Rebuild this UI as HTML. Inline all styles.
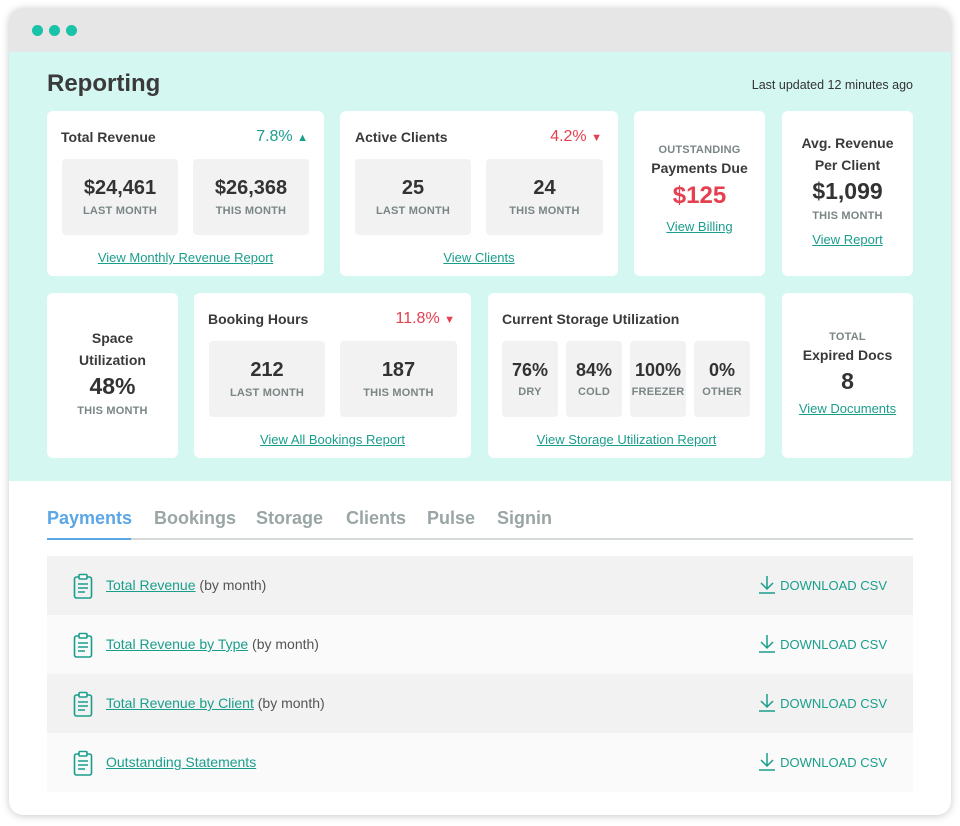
<!DOCTYPE html>
<html><head><meta charset="utf-8"><style>
*{margin:0;padding:0;box-sizing:border-box}
body{width:960px;height:826px;background:#fff;font-family:"Liberation Sans",sans-serif;position:relative;overflow:hidden;color:#333}
.a{position:absolute}
.win{left:9px;top:8px;width:942px;height:807px;border-radius:14px;background:#fff;box-shadow:0 1px 8px rgba(0,0,0,.22);overflow:hidden}
.card{position:absolute;background:#fff;border-radius:6px}
.box{position:absolute;background:#f2f2f2;border-radius:4px;text-align:center}
.big{font-weight:bold;font-size:20px;color:#333}
.lbl{font-weight:bold;font-size:11px;color:#7a8585;letter-spacing:.2px}
.t{font-size:14px;font-weight:bold;color:#3a3a3a}
.lnk{color:#1a9e8c;text-decoration:underline;font-size:13px}
.c{text-align:center}
.row{position:absolute;left:47px;width:866px;height:59px}
.dl{position:absolute;right:26px;top:22px;color:#1a9e8c;font-size:13px}
.dl svg{position:absolute;left:-22px;top:-3px}
.rl{position:absolute;left:59px;top:21px;font-size:14px;color:#555}
.rl a{color:#1a9e8c;text-decoration:underline}
.tab{position:absolute;top:508px;font-size:18px;font-weight:bold;color:#9aa5a5}
</style></head><body>
<div class="a win"></div>
<div class="a" style="left:9px;top:8px;width:942px;height:44px;background:#e6e6e6;border-radius:14px 14px 0 0"></div>
<div class="a" style="left:32px;top:25px;width:11px;height:11px;border-radius:50%;background:#18c3a8"></div>
<div class="a" style="left:49px;top:25px;width:11px;height:11px;border-radius:50%;background:#18c3a8"></div>
<div class="a" style="left:66px;top:25px;width:11px;height:11px;border-radius:50%;background:#18c3a8"></div>
<div class="a" style="left:9px;top:52px;width:942px;height:429px;background:#d4f7f2"></div>
<div class="a" style="left:47px;top:70px;font-size:24px;font-weight:bold;color:#3a3a3a">Reporting</div>
<div class="a" style="right:47px;top:78px;font-size:12.5px;color:#333">Last updated 12 minutes ago</div>

<!-- Row 1 -->
<div class="card" style="left:47px;top:111px;width:277px;height:165px">
 <div class="a t" style="left:14px;top:18px">Total Revenue</div>
 <div class="a" style="right:16px;top:17px;font-size:16px;color:#1a9e8c">7.8% <span style="font-size:11px">▲</span></div>
 <div class="box" style="left:15px;top:48px;width:116px;height:76px"><div class="big" style="margin-top:18px">$24,461</div><div class="lbl" style="margin-top:5px">LAST MONTH</div></div>
 <div class="box" style="left:146px;top:48px;width:116px;height:76px"><div class="big" style="margin-top:18px">$26,368</div><div class="lbl" style="margin-top:5px">THIS MONTH</div></div>
 <div class="a c" style="left:0;width:277px;top:138px"><span class="lnk">View Monthly Revenue Report</span></div>
</div>
<div class="card" style="left:340px;top:111px;width:278px;height:165px">
 <div class="a t" style="left:15px;top:18px">Active Clients</div>
 <div class="a" style="right:16px;top:17px;font-size:16px;color:#e5404f">4.2% <span style="font-size:11px">▼</span></div>
 <div class="box" style="left:15px;top:48px;width:116px;height:76px"><div class="big" style="margin-top:18px">25</div><div class="lbl" style="margin-top:5px">LAST MONTH</div></div>
 <div class="box" style="left:146px;top:48px;width:117px;height:76px"><div class="big" style="margin-top:18px">24</div><div class="lbl" style="margin-top:5px">THIS MONTH</div></div>
 <div class="a c" style="left:0;width:278px;top:138px"><span class="lnk">View Clients</span></div>
</div>
<div class="card c" style="left:634px;top:111px;width:131px;height:165px">
 <div class="lbl" style="margin-top:33px">OUTSTANDING</div>
 <div class="t" style="margin-top:4px">Payments Due</div>
 <div style="font-size:24px;font-weight:bold;color:#e5404f;margin-top:6px">$125</div>
 <div style="margin-top:8px"><span class="lnk">View Billing</span></div>
</div>
<div class="card c" style="left:782px;top:111px;width:131px;height:165px">
 <div class="t" style="margin-top:21px;line-height:22px">Avg. Revenue<br>Per Client</div>
 <div style="font-size:23px;font-weight:bold;margin-top:2px">$1,099</div>
 <div class="lbl" style="margin-top:5px">THIS MONTH</div>
 <div style="margin-top:9px"><span class="lnk">View Report</span></div>
</div>

<!-- Row 2 -->
<div class="card c" style="left:47px;top:293px;width:131px;height:165px">
 <div class="t" style="margin-top:34px;line-height:22px">Space<br>Utilization</div>
 <div style="font-size:23px;font-weight:bold;margin-top:2px">48%</div>
 <div class="lbl" style="margin-top:5px">THIS MONTH</div>
</div>
<div class="card" style="left:194px;top:293px;width:277px;height:165px">
 <div class="a t" style="left:14px;top:18px">Booking Hours</div>
 <div class="a" style="right:16px;top:17px;font-size:16px;color:#e5404f">11.8% <span style="font-size:11px">▼</span></div>
 <div class="box" style="left:15px;top:48px;width:116px;height:76px"><div class="big" style="margin-top:18px">212</div><div class="lbl" style="margin-top:5px">LAST MONTH</div></div>
 <div class="box" style="left:146px;top:48px;width:117px;height:76px"><div class="big" style="margin-top:18px">187</div><div class="lbl" style="margin-top:5px">THIS MONTH</div></div>
 <div class="a c" style="left:0;width:277px;top:138px"><span class="lnk">View All Bookings Report</span></div>
</div>
<div class="card" style="left:488px;top:293px;width:277px;height:165px">
 <div class="a t" style="left:14px;top:18px">Current Storage Utilization</div>
 <div class="box" style="left:14px;top:48px;width:56px;height:76px"><div class="big" style="margin-top:19px;font-size:18px">76%</div><div class="lbl" style="margin-top:5px">DRY</div></div>
 <div class="box" style="left:78px;top:48px;width:56px;height:76px"><div class="big" style="margin-top:19px;font-size:18px">84%</div><div class="lbl" style="margin-top:5px">COLD</div></div>
 <div class="box" style="left:142px;top:48px;width:56px;height:76px"><div class="big" style="margin-top:19px;font-size:18px">100%</div><div class="lbl" style="margin-top:5px">FREEZER</div></div>
 <div class="box" style="left:206px;top:48px;width:56px;height:76px"><div class="big" style="margin-top:19px;font-size:18px">0%</div><div class="lbl" style="margin-top:5px">OTHER</div></div>
 <div class="a c" style="left:0;width:277px;top:138px"><span class="lnk">View Storage Utilization Report</span></div>
</div>
<div class="card c" style="left:782px;top:293px;width:131px;height:165px">
 <div class="lbl" style="margin-top:38px">TOTAL</div>
 <div class="t" style="margin-top:4px">Expired Docs</div>
 <div style="font-size:23px;font-weight:bold;margin-top:5px">8</div>
 <div style="margin-top:5px"><span class="lnk">View Documents</span></div>
</div>

<!-- Tabs -->
<div class="tab" style="left:47px;color:#5aa6e6">Payments</div>
<div class="tab" style="left:154px">Bookings</div>
<div class="tab" style="left:256px">Storage</div>
<div class="tab" style="left:346px">Clients</div>
<div class="tab" style="left:427px">Pulse</div>
<div class="tab" style="left:497px">Signin</div>
<div class="a" style="left:47px;top:538px;width:866px;height:2px;background:#d6d9d9"></div>
<div class="a" style="left:47px;top:538px;width:84px;height:2px;background:#5aa6e6"></div>

<!-- Rows -->
<div class="row" style="top:556px;background:#f2f2f2">
 <svg class="a" style="left:26px;top:17px" width="20" height="26" viewBox="0 0 20 26"><rect x="1.5" y="4" width="17" height="21" rx="2" fill="none" stroke="#1a9e8c" stroke-width="1.6"/><rect x="6" y="1.5" width="8" height="4.5" rx="1" fill="#fff" stroke="#1a9e8c" stroke-width="1.6"/><path d="M5 11h10M5 15h10M5 19h7" stroke="#1a9e8c" stroke-width="1.6"/></svg>
 <div class="rl"><a>Total Revenue</a> (by month)</div>
 <div class="dl"><svg width="18" height="19" viewBox="0 0 18 19"><path d="M9 1v13M3 8l6 6 6-6M1 18h16" fill="none" stroke="#1a9e8c" stroke-width="1.5"/></svg>DOWNLOAD CSV</div>
</div>
<div class="row" style="top:615px;background:#fafafa">
 <svg class="a" style="left:26px;top:17px" width="20" height="26" viewBox="0 0 20 26"><rect x="1.5" y="4" width="17" height="21" rx="2" fill="none" stroke="#1a9e8c" stroke-width="1.6"/><rect x="6" y="1.5" width="8" height="4.5" rx="1" fill="#fff" stroke="#1a9e8c" stroke-width="1.6"/><path d="M5 11h10M5 15h10M5 19h7" stroke="#1a9e8c" stroke-width="1.6"/></svg>
 <div class="rl"><a>Total Revenue by Type</a> (by month)</div>
 <div class="dl"><svg width="18" height="19" viewBox="0 0 18 19"><path d="M9 1v13M3 8l6 6 6-6M1 18h16" fill="none" stroke="#1a9e8c" stroke-width="1.5"/></svg>DOWNLOAD CSV</div>
</div>
<div class="row" style="top:674px;background:#f2f2f2">
 <svg class="a" style="left:26px;top:17px" width="20" height="26" viewBox="0 0 20 26"><rect x="1.5" y="4" width="17" height="21" rx="2" fill="none" stroke="#1a9e8c" stroke-width="1.6"/><rect x="6" y="1.5" width="8" height="4.5" rx="1" fill="#fff" stroke="#1a9e8c" stroke-width="1.6"/><path d="M5 11h10M5 15h10M5 19h7" stroke="#1a9e8c" stroke-width="1.6"/></svg>
 <div class="rl"><a>Total Revenue by Client</a> (by month)</div>
 <div class="dl"><svg width="18" height="19" viewBox="0 0 18 19"><path d="M9 1v13M3 8l6 6 6-6M1 18h16" fill="none" stroke="#1a9e8c" stroke-width="1.5"/></svg>DOWNLOAD CSV</div>
</div>
<div class="row" style="top:733px;background:#fafafa">
 <svg class="a" style="left:26px;top:17px" width="20" height="26" viewBox="0 0 20 26"><rect x="1.5" y="4" width="17" height="21" rx="2" fill="none" stroke="#1a9e8c" stroke-width="1.6"/><rect x="6" y="1.5" width="8" height="4.5" rx="1" fill="#fff" stroke="#1a9e8c" stroke-width="1.6"/><path d="M5 11h10M5 15h10M5 19h7" stroke="#1a9e8c" stroke-width="1.6"/></svg>
 <div class="rl"><a>Outstanding Statements</a></div>
 <div class="dl"><svg width="18" height="19" viewBox="0 0 18 19"><path d="M9 1v13M3 8l6 6 6-6M1 18h16" fill="none" stroke="#1a9e8c" stroke-width="1.5"/></svg>DOWNLOAD CSV</div>
</div>
</body></html>
